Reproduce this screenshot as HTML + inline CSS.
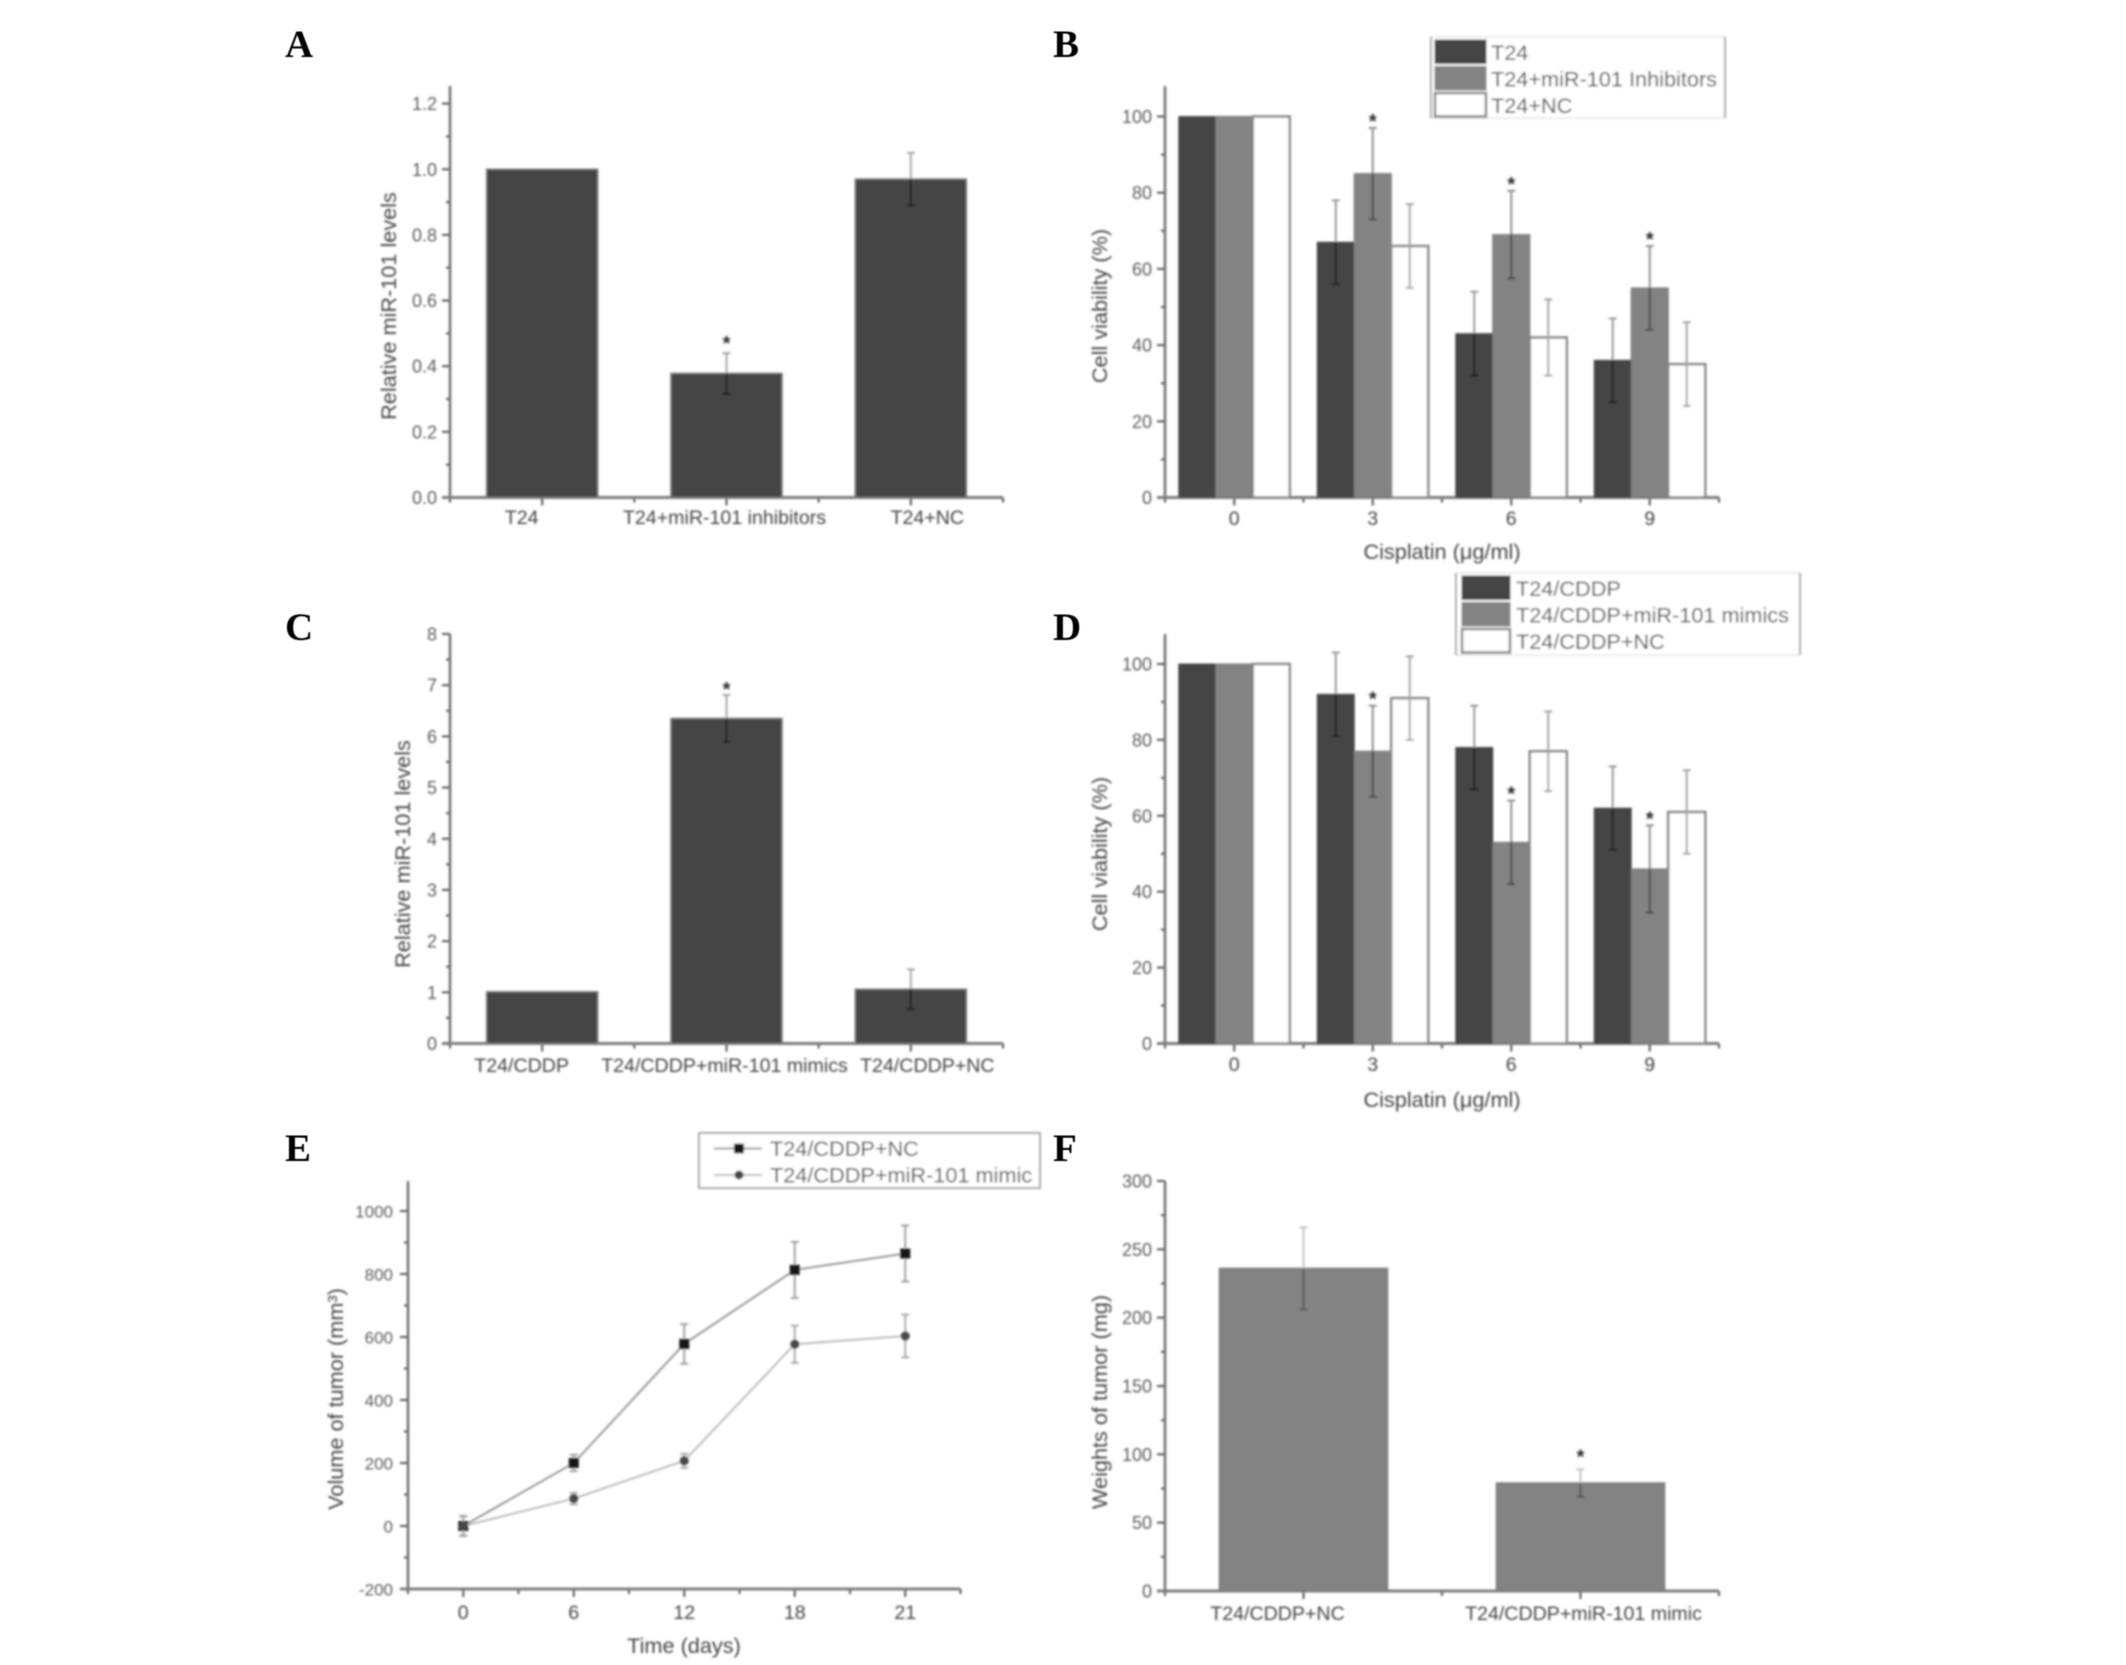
<!DOCTYPE html>
<html lang="en">
<head>
<meta charset="utf-8">
<title>miR-101 cisplatin figure</title>
<style>
html,body{margin:0;padding:0;background:#fff;}
svg{display:block;}
text{font-family:"Liberation Sans",sans-serif;fill:#444;}
.letter{font-family:"Liberation Serif",serif;font-weight:700;font-size:39px;fill:#000;}
</style>
</head>
<body>
<svg id="figure" xmlns="http://www.w3.org/2000/svg" width="2126" height="1665" viewBox="0 0 2126 1665">
  <defs>
    <filter id="soft" filterUnits="userSpaceOnUse" x="0" y="0" width="2126" height="1665">
      <feGaussianBlur stdDeviation="1.15"/>
    </filter>
    <filter id="softer" filterUnits="userSpaceOnUse" x="0" y="0" width="2126" height="1665">
      <feGaussianBlur stdDeviation="0.6"/>
    </filter>
  </defs>
  <rect x="0" y="0" width="2126" height="1665" fill="#fff"/>
  <g filter="url(#softer)">
    <text class="letter" x="285" y="57">A</text>
    <text class="letter" x="1053" y="57">B</text>
    <text class="letter" x="285" y="640">C</text>
    <text class="letter" x="1053" y="640">D</text>
    <text class="letter" x="285" y="1161">E</text>
    <text class="letter" x="1053" y="1161">F</text>
  </g>
  <g id="panel-a" filter="url(#soft)"></g>
  <g id="panel-b" filter="url(#soft)"></g>
  <g id="panel-c" filter="url(#soft)"></g>
  <g id="panel-d" filter="url(#soft)"></g>
  <g id="panel-e" filter="url(#soft)"></g>
  <g id="panel-f" filter="url(#soft)"></g>
</svg>
<script>
/* ---------- Panel A data ---------- */
const aCategories = ['T24', 'T24+miR-101 inhibitors', 'T24+NC'];
const aValues = [1.0, 0.378, 0.97];
const aErrors = [0, 0.062, 0.08];
const aSignificant = [false, true, false];
const aTickValues = [0, 0.2, 0.4, 0.6, 0.8, 1.0, 1.2];
const aTickLabels = ['0.0', '0.2', '0.4', '0.6', '0.8', '1.0', '1.2'];

/* ---------- Panel B data ---------- */
const bCategories = ['0', '3', '6', '9'];
const bSeriesNames = ['T24', 'T24+miR-101 Inhibitors', 'T24+NC'];
const bDarkValues = [100, 67, 43, 36];
const bDarkErrors = [0, 11, 11, 11];
const bMidValues = [100, 85, 69, 55];
const bMidErrors = [0, 12, 11.5, 11];
const bWhiteValues = [100, 66, 42, 35];
const bWhiteErrors = [0, 11, 10, 11];
const bSignificant = [false, true, true, true];
const bTickValues = [0, 20, 40, 60, 80, 100];
const bTickLabels = ['0', '20', '40', '60', '80', '100'];

/* ---------- Panel C data ---------- */
const cCategories = ['T24/CDDP', 'T24/CDDP+miR-101 mimics', 'T24/CDDP+NC'];
const cValues = [1.01, 6.35, 1.06];
const cErrors = [0, 0.46, 0.39];
const cSignificant = [false, true, false];
const cTickValues = [0, 1, 2, 3, 4, 5, 6, 7, 8];
const cTickLabels = ['0', '1', '2', '3', '4', '5', '6', '7', '8'];

/* ---------- Panel D data ---------- */
const dCategories = ['0', '3', '6', '9'];
const dSeriesNames = ['T24/CDDP', 'T24/CDDP+miR-101 mimics', 'T24/CDDP+NC'];
const dDarkValues = [100, 92, 78, 62];
const dDarkErrors = [0, 11, 11, 11];
const dMidValues = [100, 77, 53, 46];
const dMidErrors = [0, 12, 11, 11.5];
const dWhiteValues = [100, 91, 77, 61];
const dWhiteErrors = [0, 11, 10.5, 11];
const dSignificant = [false, true, true, true];
const dTickValues = [0, 20, 40, 60, 80, 100];
const dTickLabels = ['0', '20', '40', '60', '80', '100'];

/* ---------- Panel E data ---------- */
const eCategories = ['0', '6', '12', '18', '21'];
const eSeriesNames = ['T24/CDDP+NC', 'T24/CDDP+miR-101 mimic'];
const eNcValues = [0, 200, 578, 813, 865];
const eNcErrors = [32, 26, 63, 89, 89];
const eMimicValues = [0, 87, 207, 577, 603];
const eMimicErrors = [30, 18, 22, 59, 68];
const eTickValues = [-200, 0, 200, 400, 600, 800, 1000];
const eTickLabels = ['-200', '0', '200', '400', '600', '800', '1000'];

/* ---------- Panel F data ---------- */
const fCategories = ['T24/CDDP+NC', 'T24/CDDP+miR-101 mimic'];
const fValues = [236, 79];
const fErrors = [30, 10];
const fSignificant = [false, true];
const fTickValues = [0, 50, 100, 150, 200, 250, 300];
const fTickLabels = ['0', '50', '100', '150', '200', '250', '300'];

/* ---------- helpers ---------- */
const NS = 'http://www.w3.org/2000/svg';
const DARK = '#444444';
const MID = '#838383';
const EDGE = '#7c7c7c';

function shape(tag, parent, geometry) {
  const el = document.createElementNS(NS, tag);
  for (const key in geometry) {
    el.setAttribute(key, geometry[key]);
  }
  parent.appendChild(el);
  return el;
}

function makeY(domainLow, domainHigh, pxLow, pxHigh) {
  return function (v) {
    return pxLow + (v - domainLow) * (pxHigh - pxLow) / (domainHigh - domainLow);
  };
}

function makeBandX(left, right, count) {
  const band = (right - left) / count;
  return function (i) {
    return left + band * (i + 0.5);
  };
}

function drawAxes(group, cfg) {
  const xOf = makeBandX(cfg.left, cfg.right, cfg.categories.length);
  const band = (cfg.right - cfg.left) / cfg.categories.length;

  cfg.tickValues.forEach(function (v, i) {
    const tick = shape('line', group, { x1: cfg.left - cfg.majorLen, x2: cfg.left, y1: cfg.y(v), y2: cfg.y(v), stroke: '#555', 'stroke-width': 2 });
    
    

    const label = shape('text', group, { x: cfg.left - cfg.labelGap, y: cfg.y(v) + 6.5, 'text-anchor': 'end', 'font-size': cfg.tickFont, style: 'fill:#5c5c5c' });
    label.textContent = cfg.tickLabels[i];
    
    

    if (i < cfg.tickValues.length - 1) {
      const mid = (v + cfg.tickValues[i + 1]) / 2;
      const minor = shape('line', group, { x1: cfg.left - 4, x2: cfg.left, y1: cfg.y(mid), y2: cfg.y(mid), stroke: '#555', 'stroke-width': 2 });
      
      
    }
  });

  for (let i = 0; i <= cfg.categories.length; i++) {
    const edge = cfg.left + band * i;
    const minorX = shape('line', group, { x1: edge, x2: edge, y1: cfg.bottom, y2: cfg.bottom + 5, stroke: '#555', 'stroke-width': 2 });
    
    
  }

  cfg.categories.forEach(function (name, i) {
    const cx = xOf(i);
    const majorX = shape('line', group, { x1: cx, x2: cx, y1: cfg.bottom, y2: cfg.bottom + 8, stroke: '#555', 'stroke-width': 2 });
    
    

    const nudge = (i - (cfg.categories.length - 1) / 2) * cfg.labelSpread + cfg.labelShift;
    const label = shape('text', group, { x: cx + nudge, y: cfg.labelY, 'text-anchor': 'middle', 'font-size': cfg.catFont });
    label.textContent = name;
    
    
  });

  const yAxis = shape('line', group, { x1: cfg.left, x2: cfg.left, y1: cfg.top, y2: cfg.bottom + 1, stroke: '#6e6e6e', 'stroke-width': 2.5 });
  
  

  const xAxis = shape('line', group, { x1: cfg.left - cfg.majorLen, x2: cfg.right, y1: cfg.bottom, y2: cfg.bottom, stroke: '#7c7c7c', 'stroke-width': 3 });
  
  

  const yTitle = shape('text', group, { x: 0, y: 0, transform: 'translate(' + cfg.yTitleX + ' ' + cfg.yTitleY + ') rotate(-90)', 'text-anchor': 'middle', 'font-size': 21.7 });
  yTitle.textContent = cfg.yTitle;
  
  

  if (cfg.xTitle) {
    const xTitle = shape('text', group, { x: cfg.xTitleX, y: cfg.xTitleY, 'text-anchor': 'middle', 'font-size': 21.7 });
    xTitle.textContent = cfg.xTitle;
    
    
  }
  return xOf;
}

function drawErrorBar(group, cx, yValue, yUpper, yLower, upperColor, lowerColor) {
  const above = shape('line', group, { x1: cx, x2: cx, y1: yUpper, y2: yValue, stroke: upperColor, 'stroke-width': 2 });
  
  

  const below = shape('line', group, { x1: cx, x2: cx, y1: yValue, y2: yLower, stroke: lowerColor, 'stroke-width': 2 });
  
  

  const capTop = shape('line', group, { x1: cx - 4, x2: cx + 4, y1: yUpper, y2: yUpper, stroke: upperColor, 'stroke-width': 2 });
  
  

  const capBottom = shape('line', group, { x1: cx - 4, x2: cx + 4, y1: yLower, y2: yLower, stroke: lowerColor, 'stroke-width': 2 });
  
  
}

function drawStar(group, cx, yTop, gap) {
  const star = shape('text', group, { x: cx, y: yTop - gap + 12, 'text-anchor': 'middle', 'font-size': 20, 'font-weight': 700, style: 'fill:#2a2a2a' });
  star.textContent = '*';
  
  
}

function drawSimpleBars(group, cfg, values, errors, significant, color, barWidth, starGap, upperColor, lowerColor) {
  const xOf = makeBandX(cfg.left, cfg.right, cfg.categories.length);
  values.forEach(function (v, i) {
    const bar = shape('rect', group, { x: xOf(i) - barWidth / 2, y: cfg.y(v), width: barWidth, height: cfg.bottom - cfg.y(v), fill: color, stroke: EDGE, 'stroke-width': 1.5 });
    
    
  });
  values.forEach(function (v, i) {
    if (errors[i] > 0) {
      drawErrorBar(group, xOf(i), cfg.y(v), cfg.y(v + errors[i]), cfg.y(v - errors[i]), upperColor, lowerColor);
    }
    if (significant[i]) {
      drawStar(group, xOf(i), cfg.y(v + errors[i]), starGap);
    }
  });
}

function drawGroupedBars(group, cfg, seriesList, significant) {
  const xOf = makeBandX(cfg.left, cfg.right, cfg.categories.length);
  const barWidth = 37;
  seriesList.forEach(function (series, s) {
    series.values.forEach(function (v, i) {
      const left = xOf(i) - barWidth * 1.5 + s * barWidth;
      const bar = shape('rect', group, { x: left, y: cfg.y(v), width: barWidth, height: cfg.bottom - cfg.y(v), fill: series.fill, stroke: series.stroke, 'stroke-width': series.strokeWidth });
      
      
    });
  });
  seriesList.forEach(function (series, s) {
    series.values.forEach(function (v, i) {
      const cx = xOf(i) - barWidth + s * barWidth;
      if (series.errors[i] > 0) {
        drawErrorBar(group, cx, cfg.y(v), cfg.y(v + series.errors[i]), cfg.y(v - series.errors[i]), series.upper, series.lower);
      }
      if (s === 1 && significant[i]) {
        drawStar(group, cx, cfg.y(v + series.errors[i]), 12);
      }
    });
  });
}

function drawBarLegend(group, box, seriesList) {
  const bg = shape('rect', group, { x: box.x, y: box.y, width: box.w, height: box.h, fill: '#fff', stroke: '#e6e6e6', 'stroke-width': 1.5 });
  
  

  const leftEdge = shape('line', group, { x1: box.x, x2: box.x, y1: box.y, y2: box.y + box.h, stroke: '#a8a8a8', 'stroke-width': 2 });
  
  

  const rightEdge = shape('line', group, { x1: box.x + box.w, x2: box.x + box.w, y1: box.y, y2: box.y + box.h, stroke: '#a8a8a8', 'stroke-width': 2 });
  
  

  seriesList.forEach(function (series, i) {
    const rowTop = box.y + 3 + i * box.rowH;
    const swatch = shape('rect', group, { x: box.x + box.swatchDx, y: rowTop, width: box.swatchW, height: box.rowH - 3, fill: series.fill, stroke: series.stroke, 'stroke-width': series.strokeWidth });
    
    

    const label = shape('text', group, { x: box.x + box.textDx, y: rowTop + box.rowH / 2 + 6.5, 'font-size': 21.7 });
    label.textContent = series.name;
    
    
  });
}

function groupedSeries(names, dark, darkErr, mid, midErr, white, whiteErr) {
  return [
    { key: 'control', name: names[0], values: dark, errors: darkErr, fill: DARK, stroke: '#4e4e4e', strokeWidth: 1, upper: '#9a9a9a', lower: '#222' },
    { key: 'treated', name: names[1], values: mid, errors: midErr, fill: MID, stroke: '#777', strokeWidth: 1, upper: '#8e8e8e', lower: '#4a4a4a' },
    { key: 'negative', name: names[2], values: white, errors: whiteErr, fill: '#fff', stroke: '#858585', strokeWidth: 2.5, upper: '#a4a4a4', lower: '#a4a4a4' }
  ];
}

function baseConfig(extra) {
  const cfg = { majorLen: 8, labelGap: 13, tickFont: 18, catFont: 19.6, labelSpread: 0, labelShift: 0 };
  for (const key in extra) {
    cfg[key] = extra[key];
  }
  return cfg;
}

/* ---------- Panel A ---------- */
(function () {
  const group = document.getElementById('panel-a');
  const cfg = baseConfig({
    left: 450, right: 1003, top: 86, bottom: 497.5,
    y: makeY(0, 1.2, 497.5, 103.6),
    categories: aCategories, tickValues: aTickValues, tickLabels: aTickLabels,
    labelY: 524, labelSpread: 18.5, labelShift: -2,
    yTitle: 'Relative miR-101 levels', yTitleX: 396, yTitleY: 306
  });
  drawAxes(group, cfg);
  drawSimpleBars(group, cfg, aValues, aErrors, aSignificant, DARK, 111, 15, '#a8a8a8', '#222');
})();

/* ---------- Panel B ---------- */
(function () {
  const group = document.getElementById('panel-b');
  const cfg = baseConfig({
    left: 1165, right: 1719, top: 86, bottom: 497.5,
    y: makeY(0, 100, 497.5, 116.5),
    categories: bCategories, tickValues: bTickValues, tickLabels: bTickLabels,
    labelY: 525,
    yTitle: 'Cell viability (%)', yTitleX: 1107, yTitleY: 306,
    xTitle: 'Cisplatin (\u03bcg/ml)', xTitleX: 1442, xTitleY: 559
  });
  const series = groupedSeries(bSeriesNames, bDarkValues, bDarkErrors, bMidValues, bMidErrors, bWhiteValues, bWhiteErrors);
  drawAxes(group, cfg);
  drawGroupedBars(group, cfg, series, bSignificant);
  drawBarLegend(group, { x: 1431, y: 37, w: 294, h: 81, rowH: 26.5, swatchDx: 4, swatchW: 51, textDx: 60 }, series);
})();

/* ---------- Panel C ---------- */
(function () {
  const group = document.getElementById('panel-c');
  const cfg = baseConfig({
    left: 450, right: 1003, top: 634, bottom: 1043.5,
    y: makeY(0, 8, 1043.5, 634),
    categories: cCategories, tickValues: cTickValues, tickLabels: cTickLabels,
    labelY: 1072, labelSpread: 18.5, labelShift: -2,
    yTitle: 'Relative miR-101 levels', yTitleX: 410, yTitleY: 854
  });
  drawAxes(group, cfg);
  drawSimpleBars(group, cfg, cValues, cErrors, cSignificant, DARK, 111, 11, '#a8a8a8', '#222');
})();

/* ---------- Panel D ---------- */
(function () {
  const group = document.getElementById('panel-d');
  const cfg = baseConfig({
    left: 1165, right: 1719, top: 634, bottom: 1043.5,
    y: makeY(0, 100, 1043.5, 664),
    categories: dCategories, tickValues: dTickValues, tickLabels: dTickLabels,
    labelY: 1071,
    yTitle: 'Cell viability (%)', yTitleX: 1107, yTitleY: 854,
    xTitle: 'Cisplatin (\u03bcg/ml)', xTitleX: 1442, xTitleY: 1107
  });
  const series = groupedSeries(dSeriesNames, dDarkValues, dDarkErrors, dMidValues, dMidErrors, dWhiteValues, dWhiteErrors);
  drawAxes(group, cfg);
  drawGroupedBars(group, cfg, series, dSignificant);
  drawBarLegend(group, { x: 1456, y: 573, w: 344, h: 82, rowH: 26.5, swatchDx: 6, swatchW: 48, textDx: 60 }, series);
})();

/* ---------- Panel E ---------- */
(function () {
  const group = document.getElementById('panel-e');
  const cfg = baseConfig({
    left: 408, right: 960.5, top: 1181, bottom: 1589,
    y: makeY(-200, 1000, 1589, 1211),
    categories: eCategories, tickValues: eTickValues, tickLabels: eTickLabels,
    labelY: 1619, labelGap: 15, tickFont: 17,
    yTitle: 'Volume of tumor (mm\u00b3)', yTitleX: 343, yTitleY: 1399,
    xTitle: 'Time (days)', xTitleX: 684, xTitleY: 1653
  });
  const xOf = drawAxes(group, cfg);

  const lines = [
    { key: 'nc', values: eNcValues, errors: eNcErrors, line: '#989898', err: '#a0a0a0', marker: 'square', color: '#141414' },
    { key: 'mimic', values: eMimicValues, errors: eMimicErrors, line: '#bcbcbc', err: '#ababab', marker: 'circle', color: '#474747' }
  ];

  lines.forEach(function (s) {
    const pts = s.values.map(function (v, i) {
      return xOf(i) + ',' + cfg.y(v);
    }).join(' ');
    const path = shape('polyline', group, { points: pts, fill: 'none', stroke: s.line, 'stroke-width': 2 });
    
    

    s.values.forEach(function (v, i) {
      drawErrorBar(group, xOf(i), cfg.y(v), cfg.y(v + s.errors[i]), cfg.y(v - s.errors[i]), s.err, s.err);
    });

    s.values.forEach(function (v, i) {
      const point = s.marker === 'square'
        ? shape('rect', group, { x: xOf(i) - 5, y: cfg.y(v) - 5, width: 10, height: 10, fill: s.color })
        : shape('circle', group, { cx: xOf(i), cy: cfg.y(v), r: 4.5, fill: s.color });
      
      
    });
  });

  const legend = shape('rect', group, { x: 699, y: 1133, width: 341, height: 55, fill: '#fff', stroke: '#a4a4a4', 'stroke-width': 2 });
  
  

  lines.forEach(function (s, i) {
    const rowY = 1148.5 + i * 26.5;
    const sample = shape('line', group, { x1: 714, x2: 762, y1: rowY, y2: rowY, stroke: s.line, 'stroke-width': 2 });
    
    

    const mark = s.marker === 'square'
      ? shape('rect', group, { x: 734, y: rowY - 5, width: 10, height: 10, fill: s.color })
      : shape('circle', group, { cx: 739, cy: rowY, r: 4.5, fill: s.color });
    
    

    const label = shape('text', group, { x: 770, y: rowY + 7.5, 'font-size': 21.7 });
    label.textContent = eSeriesNames[i];
    
    
  });
})();

/* ---------- Panel F ---------- */
(function () {
  const group = document.getElementById('panel-f');
  const cfg = baseConfig({
    left: 1165, right: 1719, top: 1181, bottom: 1591,
    y: makeY(0, 300, 1591, 1181),
    categories: fCategories, tickValues: fTickValues, tickLabels: fTickLabels,
    labelY: 1620, labelSpread: 29, labelShift: -11.5,
    yTitle: 'Weights of tumor (mg)', yTitleX: 1107, yTitleY: 1402
  });
  drawAxes(group, cfg);
  drawSimpleBars(group, cfg, fValues, fErrors, fSignificant, MID, 168, 18, '#c4c4c4', '#585858');
})();
</script>
</body>
</html>
